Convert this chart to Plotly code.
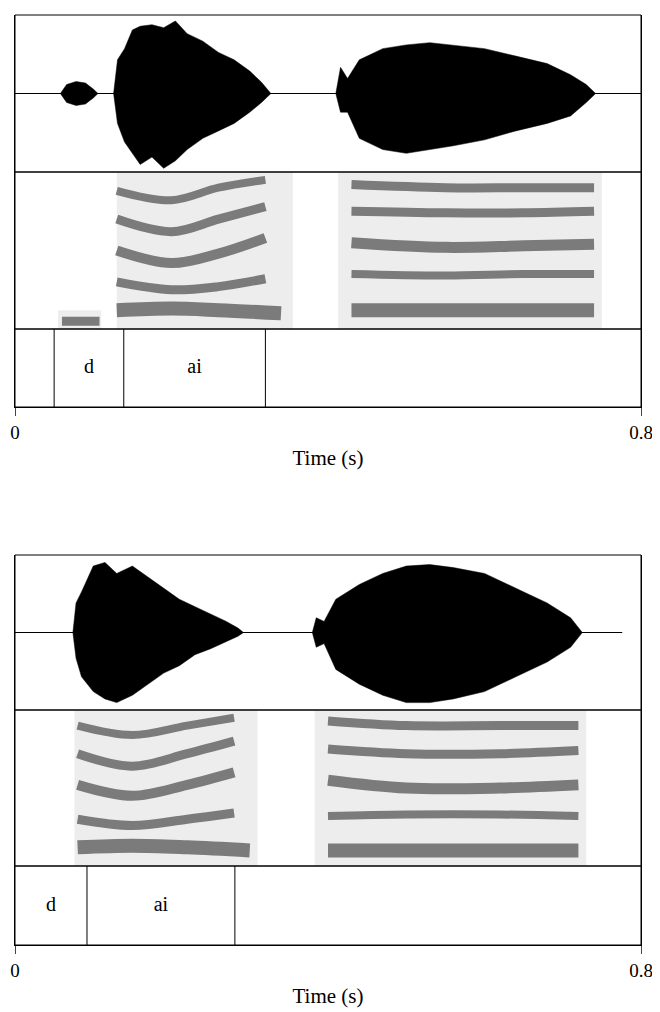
import plotly.graph_objects as go

# ---- data ----
# panel 1 (top): waveform envelope (fraction of half height), segments, formant tracks
p1_end = 0.8
p1_env = [
    ([0.058, 0.066, 0.078, 0.09, 0.1, 0.106], [0, 0.12, 0.16, 0.14, 0.06, 0], [0, 0.12, 0.16, 0.14, 0.06, 0]),
    ([0.126, 0.131, 0.14, 0.15, 0.16, 0.175, 0.19, 0.205, 0.22, 0.24, 0.26, 0.28, 0.30, 0.315, 0.327],
     [0, 0.45, 0.6, 0.85, 0.9, 0.92, 0.88, 0.97, 0.8, 0.7, 0.55, 0.45, 0.3, 0.15, 0],
     [0, 0.4, 0.65, 0.8, 0.95, 0.85, 1.0, 0.9, 0.75, 0.6, 0.5, 0.4, 0.25, 0.12, 0]),
    ([0.41, 0.416, 0.425, 0.44, 0.47, 0.5, 0.53, 0.56, 0.6, 0.64, 0.68, 0.71, 0.73, 0.742],
     [0, 0.35, 0.2, 0.45, 0.6, 0.65, 0.68, 0.65, 0.6, 0.5, 0.4, 0.25, 0.12, 0],
     [0, 0.25, 0.25, 0.6, 0.75, 0.8, 0.75, 0.7, 0.62, 0.5, 0.4, 0.3, 0.12, 0]),
]
p1_voiced = [(0.055, 0.11, 0.0, 0.12), (0.13, 0.355, 0.0, 1.0), (0.413, 0.75, 0.0, 1.0)]
p1_formants = [
    ([0.06, 0.108], [0.05, 0.05], 9),
    ([0.13, 0.2, 0.26, 0.34], [0.12, 0.13, 0.12, 0.1], 14),
    ([0.13, 0.2, 0.26, 0.32], [0.3, 0.25, 0.27, 0.32], 9),
    ([0.13, 0.2, 0.26, 0.32], [0.5, 0.42, 0.48, 0.58], 10),
    ([0.13, 0.2, 0.26, 0.32], [0.7, 0.62, 0.7, 0.78], 9),
    ([0.13, 0.2, 0.26, 0.32], [0.88, 0.82, 0.9, 0.95], 8),
    ([0.43, 0.55, 0.65, 0.74], [0.12, 0.12, 0.12, 0.12], 14),
    ([0.43, 0.55, 0.65, 0.74], [0.35, 0.34, 0.35, 0.35], 8),
    ([0.43, 0.55, 0.65, 0.74], [0.55, 0.52, 0.53, 0.54], 11),
    ([0.43, 0.55, 0.65, 0.74], [0.75, 0.74, 0.74, 0.75], 9),
    ([0.43, 0.55, 0.65, 0.74], [0.92, 0.9, 0.9, 0.9], 9),
]
p1_bounds = [0.05, 0.139, 0.32]
p1_labels = [(0.0945, "d"), (0.2295, "ai")]

# panel 2 (bottom)
p2_end = 0.776
p2_env = [
    ([0.074, 0.078, 0.085, 0.1, 0.115, 0.13, 0.15, 0.17, 0.19, 0.21, 0.23, 0.25, 0.27, 0.285, 0.292],
     [0, 0.4, 0.55, 0.9, 0.95, 0.8, 0.9, 0.75, 0.6, 0.45, 0.35, 0.25, 0.15, 0.06, 0],
     [0, 0.35, 0.6, 0.8, 0.9, 0.95, 0.85, 0.7, 0.55, 0.45, 0.3, 0.22, 0.12, 0.05, 0]),
    ([0.38, 0.385, 0.395, 0.41, 0.44, 0.47, 0.5, 0.53, 0.56, 0.6, 0.64, 0.68, 0.71, 0.725],
     [0, 0.2, 0.15, 0.45, 0.65, 0.8, 0.9, 0.92, 0.88, 0.8, 0.6, 0.4, 0.2, 0],
     [0, 0.2, 0.15, 0.5, 0.7, 0.85, 0.95, 0.95, 0.9, 0.8, 0.6, 0.4, 0.2, 0]),
]
p2_voiced = [(0.076, 0.31, 0.0, 1.0), (0.383, 0.73, 0.0, 1.0)]
p2_formants = [
    ([0.08, 0.15, 0.22, 0.3], [0.12, 0.13, 0.12, 0.1], 14),
    ([0.08, 0.15, 0.22, 0.28], [0.3, 0.26, 0.3, 0.34], 9),
    ([0.08, 0.15, 0.22, 0.28], [0.52, 0.45, 0.52, 0.6], 10),
    ([0.08, 0.15, 0.22, 0.28], [0.72, 0.64, 0.72, 0.8], 9),
    ([0.08, 0.15, 0.22, 0.28], [0.9, 0.84, 0.9, 0.95], 8),
    ([0.4, 0.5, 0.62, 0.72], [0.1, 0.1, 0.1, 0.1], 14),
    ([0.4, 0.5, 0.62, 0.72], [0.32, 0.33, 0.33, 0.32], 8),
    ([0.4, 0.5, 0.62, 0.72], [0.55, 0.5, 0.5, 0.52], 11),
    ([0.4, 0.5, 0.62, 0.72], [0.75, 0.72, 0.72, 0.74], 9),
    ([0.4, 0.5, 0.62, 0.72], [0.93, 0.9, 0.9, 0.9], 9),
]
p2_bounds = [0.092, 0.281]
p2_labels = [(0.046, "d"), (0.1865, "ai")]

FONT = "Liberation Serif"
OFF = 8.0      # page offset of the figure (body margin)
H = 1004.0

def dom(top_px, bot_px):
    return [1 - (bot_px - OFF) / H, 1 - (top_px - OFF) / H]

fig = go.Figure()

panels = [
    dict(x="x", xa="xaxis", ys=("y", "y2", "y3"), doms=(dom(15, 172), dom(172, 329), dom(329, 407)),
         end=p1_end, env=p1_env, voiced=p1_voiced, formants=p1_formants, bounds=p1_bounds, labels=p1_labels),
    dict(x="x2", xa="xaxis2", ys=("y4", "y5", "y6"), doms=(dom(555, 710), dom(710, 866), dom(866, 945)),
         end=p2_end, env=p2_env, voiced=p2_voiced, formants=p2_formants, bounds=p2_bounds, labels=p2_labels),
]

layout = dict(width=652, height=1004, margin=dict(l=7, r=19, t=0, b=0),
              plot_bgcolor="white", paper_bgcolor="white", showlegend=False,
              font=dict(family=FONT, size=20, color="black"))

for p in panels:
    yw, ys, yt = p["ys"]
    # baseline
    fig.add_trace(go.Scatter(x=[0, p["end"]], y=[0, 0], mode="lines", line=dict(color="black", width=1),
                             xaxis=p["x"], yaxis=yw))
    for t, up, dn in p["env"]:
        xs = t + t[::-1]
        yv = up + [-v for v in dn[::-1]]
        fig.add_trace(go.Scatter(x=xs, y=yv, fill="toself", fillcolor="black", mode="lines",
                                 line=dict(color="black", width=0.5), xaxis=p["x"], yaxis=yw))
    # spectrogram approximation
    for x0, x1, y0, y1 in p["voiced"]:
        fig.add_trace(go.Scatter(x=[x0, x1, x1, x0, x0], y=[y0, y0, y1, y1, y0], fill="toself",
                                 fillcolor="rgba(0,0,0,0.07)", mode="lines", line=dict(width=0),
                                 xaxis=p["x"], yaxis=ys))
    for t, f, w in p["formants"]:
        fig.add_trace(go.Scatter(x=t, y=f, mode="lines",
                                 line=dict(color="rgba(30,30,30,0.55)", width=w, shape="spline"),
                                 xaxis=p["x"], yaxis=ys))
    # tier boundaries and labels
    for b in p["bounds"]:
        fig.add_trace(go.Scatter(x=[b, b], y=[0, 1], mode="lines", line=dict(color="black", width=1),
                                 xaxis=p["x"], yaxis=yt))
    fig.add_trace(go.Scatter(x=[l[0] for l in p["labels"]], y=[0.5] * len(p["labels"]), mode="text",
                             text=[l[1] for l in p["labels"]], textfont=dict(family=FONT, size=20),
                             xaxis=p["x"], yaxis=yt))

    box = dict(showline=True, linecolor="black", linewidth=1, mirror=True, showgrid=False,
               zeroline=False, showticklabels=False, ticks="")
    for yn, d, rng in zip(p["ys"], p["doms"], ([-1.05, 1.05], [0, 1], [0, 1])):
        key = "yaxis" + yn[1:]
        layout[key] = dict(box, domain=d, range=rng, anchor=p["x"])
        # frame around each tier
        fig.add_shape(type="rect", xref=p["x"] + " domain", yref=yn + " domain",
                      x0=0, x1=1, y0=0, y1=1, line=dict(color="black", width=1))
    layout[p["xa"]] = dict(showline=True, linecolor="black", mirror=False, showgrid=False, zeroline=False,
                           range=[0, 0.8], anchor=yt, tickvals=[0, 0.8], ticktext=["0", "0.8"],
                           ticks="outside", ticklen=8, tickfont=dict(family=FONT, size=19),
                           title=dict(text="Time (s)", font=dict(family=FONT, size=21), standoff=8))

fig.update_layout(**layout)
fig.write_html("out.html")
